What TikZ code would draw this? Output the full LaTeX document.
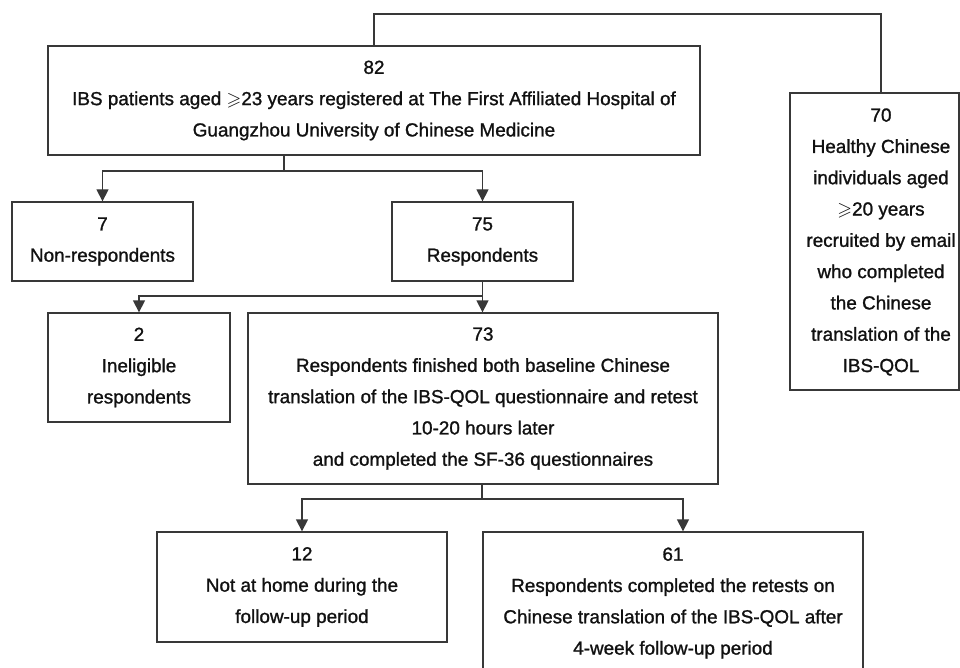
\documentclass[tikz,border=0pt]{standalone}
\usepackage{fontspec}
\usepackage{amssymb}
\setmainfont{Liberation Sans}[RawFeature={embolden=1.2}]
\usetikzlibrary{arrows.meta}
\definecolor{linec}{HTML}{383838}
\definecolor{textc}{HTML}{111111}
\begin{document}
\begin{tikzpicture}[x=1pt,y=-1pt,
  txt/.style={inner sep=0pt, align=center,
    font=\fontsize{18.9}{31.3}\selectfont, text=textc},
  box/.style={txt, draw=linec, line width=1.3pt},
  conn/.style={draw=linec, line width=1.3pt},
  arr/.style={conn, -{Triangle[width=12pt,length=12pt]}}]
\useasboundingbox (0,0) rectangle (960,668);
\clip (0,0) rectangle (960,668);

\node[box, minimum width=652pt, minimum height=109pt] (top) at (374,100.5)
  {82\\IBS patients aged $\geqslant$23 years registered at The First Affiliated Hospital of\\Guangzhou University of Chinese Medicine};
\node[box, minimum width=169pt, minimum height=297pt] (healthy) at (874.5,241.5) {};
\node[txt] (healthytext) at (881,242)
  {70\\Healthy Chinese\\individuals aged\\$\geqslant$20 years\\recruited by email\\who completed\\the Chinese\\translation of the\\IBS-QOL};
\node[box, minimum width=181pt, minimum height=79pt] (nonresp) at (102.5,241.5)
  {7\\Non-respondents};
\node[box, minimum width=181pt, minimum height=79pt] (resp) at (482.5,241.5)
  {75\\Respondents};
\node[box, minimum width=182pt, minimum height=109pt] (inelig) at (139,367.5)
  {2\\Ineligible\\respondents};
\node[box, minimum width=470pt, minimum height=171pt] (b73) at (483,398.5)
  {73\\Respondents finished both baseline Chinese\\translation of the IBS-QOL questionnaire and retest\\10-20 hours later\\and completed the SF-36 questionnaires};
\node[box, minimum width=290pt, minimum height=110pt] (b12) at (302,587)
  {12\\Not at home during the\\follow-up period};
\node[box, minimum width=380pt, minimum height=142pt] (b61) at (673,603)
  {61\\Respondents completed the retests on\\Chinese translation of the IBS-QOL after\\4-week follow-up period};

\coordinate (tlev) at (0,14);
\draw[conn] (top.north) -- (top.north |- tlev) -| (healthy.north -| healthytext);

\coordinate (j1) at (284,171);
\draw[conn] (top.south -| j1) -- (j1);
\draw[arr] (j1) -| (nonresp.north);
\draw[arr] (j1) -| (resp.north);

\coordinate (j2) at (482.5,296);
\draw[conn] (resp.south) -- (j2);
\draw[arr] (j2) -| (inelig.north);
\draw[arr] (j2) -- (b73.north -| j2);

\coordinate (j3) at (482,499);
\draw[conn] (b73.south -| j3) -- (j3);
\draw[arr] (j3) -| (b12.north);
\draw[arr] (j3) -| ([xshift=10pt]b61.north);
\end{tikzpicture}
\end{document}
